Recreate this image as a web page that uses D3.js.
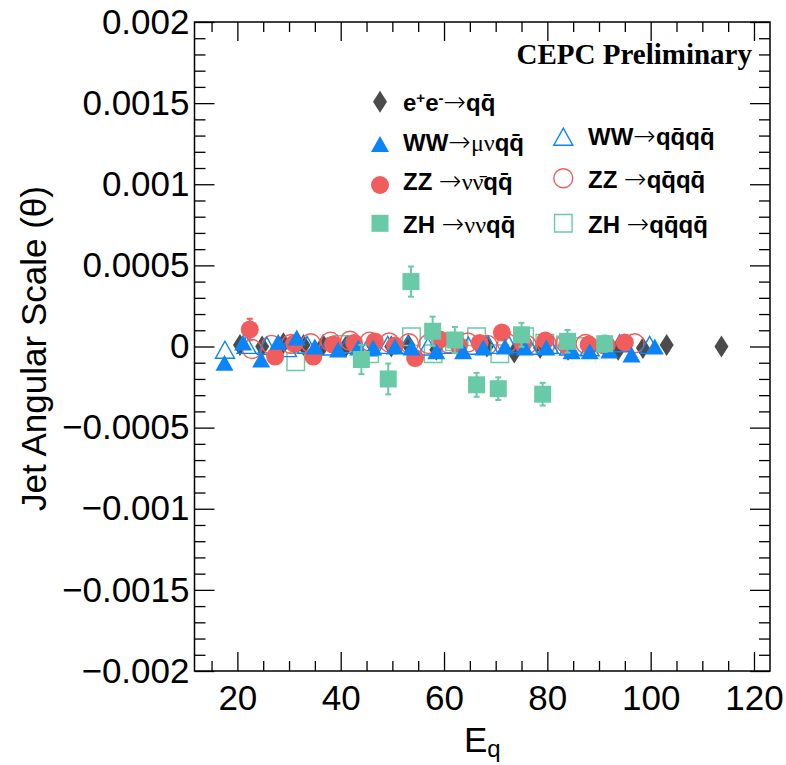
<!DOCTYPE html>
<html><head><meta charset="utf-8">
<script src="https://cdn.jsdelivr.net/npm/d3@7"></script>
<style>body{margin:0;background:#fff}svg{display:block}</style>
</head><body><svg id="c" width="786" height="765"></svg>
<script>
// ---------- data ----------
const xTicks = [20, 40, 60, 80, 100, 120];
const yTicks = [0.002, 0.0015, 0.001, 0.0005, 0, -0.0005, -0.001, -0.0015, -0.002];
const yTickLabels = ["0.002", "0.0015", "0.001", "0.0005", "0", "\u22120.0005", "\u22120.001", "\u22120.0015", "\u22120.002"];

const eeE = [20.5, 24.8, 28.9, 32.8, 36.6, 41.0, 46.2, 49.8, 53.1, 58.5, 63.0, 68.3, 73.6, 78.6, 84.0, 88.6, 93.7, 98.5, 103.1, 113.7];
const eeV = [0.00001, 0.0, 0.00002, 0.00001, 0.00001, 0.0, 0.00001, 0.0, 0.00001, -0.00002, -0.00001, 0.0, -0.000037, -0.00001, -0.00002, 0.0, -0.00002, -0.00001, 0.00001, 0.0];

const wwLepE = [17.5, 21.1, 24.6, 27.9, 31.5, 35.0, 39.5, 43.4, 46.3, 50.5, 53.7, 58.5, 63.7, 67.6, 71.8, 75.6, 79.8, 84.7, 88.2, 92.0, 96.3, 100.8];
const wwLepV = [-0.0001, 0.000025, -0.00008, 0.00003, 0.000055, 0.0, -0.000018, -0.000006, -0.000006, 0.0, -0.000006, -0.00003, -0.00003, -0.000006, 0.0, -0.000006, -0.000006, -0.00003, -0.00003, -0.000025, -0.00005, 0.0];

const wwHadE = [17.6, 21.8, 25.7, 29.6, 33.5, 37.4, 41.3, 45.2, 49.1, 53.0, 56.9, 60.8, 64.7, 68.6, 72.5, 76.4, 80.3, 84.2, 88.2, 94.0, 99.8];
const wwHadV = [-0.00002, 0.00001, 0.000005, -0.00001, 0.00001, 0.0, 0.00001, -0.000005, 0.00001, 0.00001, 0.0, 0.00001, 0.000005, 0.00001, 0.000015, 0.000005, 0.00001, 0.0, -0.000005, 0.00002, 0.00001];

const zzNuE = [22.4, 27.3, 31.0, 34.7, 38.5, 42.6, 46.6, 50.5, 54.4, 59.2, 62.9, 66.9, 71.2, 75.3, 79.6, 83.8, 88.0, 91.5, 95.0];
const zzNuV = [0.000105, -0.000062, 0.000018, -0.000062, 0.000012, 0.000022, 0.000031, 0.000006, -0.000071, 0.000043, 0.000006, 0.000022, 0.000086, 0.000018, 0.000037, 0.000006, 0.000012, 0.000006, 0.000025];
const zzNuErr = [0.000066, 0.00003, 0.00003, 0.00003, 0.00003, 0.00003, 0.00003, 0.00003, 0.00003, 0.00003, 0.00003, 0.00003, 0.00003, 0.00003, 0.00003, 0.00003, 0.00003, 0.00003, 0.00003];

const zzHadE = [22.8, 26.6, 30.4, 34.2, 38.0, 41.8, 45.6, 49.4, 53.2, 57.0, 60.8, 64.6, 68.4, 72.2, 76.0, 79.8, 83.6, 87.4, 91.2, 96.9];
const zzHadV = [-0.000015, 0.00001, 0.000015, 0.00002, 0.00003, 0.000035, 0.00003, 0.000025, 0.00002, 0.000015, 0.00002, 0.000025, 0.00001, 0.00002, 0.00001, 0.00002, 0.00002, 0.000015, 0.00001, 0.00002];

const zhNuE = [44.0, 49.2, 53.6, 57.8, 62.1, 66.3, 70.5, 75.0, 79.1, 83.9, 91.1];
const zhNuV = [-0.00008, -0.0002, 0.0004, 0.000094, 0.00004, -0.000236, -0.00026, 0.000072, -0.000294, 0.000032, 0.000017];
const zhNuErr = [0.00009, 0.000095, 0.000093, 0.00009, 0.00008, 0.000074, 0.00007, 0.000074, 0.00007, 0.00007, 0.00005];

const zhHadE = [31.3, 40.2, 45.6, 53.7, 57.9, 62.0, 66.3, 70.8, 75.6, 79.5, 83.5, 87.0];
const zhHadV = [-0.000094, 0.000012, -0.000045, 0.00006, -0.000045, 0.00003, 0.00006, -0.000045, 0.00006, 0.00002, 0.00001, 0.0];

// ---------- style ----------
const C_DARK = "#4b4b4b", C_BLUE = "#0b84f8", C_RED = "#f15d5d", C_GREEN = "#68caa7";
const SANS = "'Liberation Sans', Arial, Helvetica, sans-serif";
const SERIF = "'Liberation Serif', 'Times New Roman', serif";

const svg = d3.select("#c");
const L = 194.5, R = 770, T = 22, B = 671;
const x = d3.scaleLinear().domain([11.7, 123.1]).range([L, R]);
const y = d3.scaleLinear().domain([-0.002, 0.002]).range([B, T]);

function tri(w, h) { return `M0,${-h/2}L${w/2},${h/2}L${-w/2},${h/2}Z`; }
function diam(w, h) { return `M0,${-h/2}L${w/2},0L0,${h/2}L${-w/2},0Z`; }
function sq(s) { return `M${-s/2},${-s/2}h${s}v${s}h${-s}Z`; }
function circ(r) { return `M${r},0A${r},${r} 0 1,1 ${-r},0A${r},${r} 0 1,1 ${r},0Z`; }

const M = {
  tri: tri(18, 16), diam: diam(14, 22), sq: sq(17), circ: circ(9),
  otri: tri(19, 17), osq: sq(17.5), ocirc: circ(9.5)
};

// ---------- axes ----------
const gAx = svg.append("g");
const minorX = d3.range(15, 121, 5).filter(v => !xTicks.includes(v));
const minorY = d3.range(-20, 21).map(v => v * 0.0001).filter(v => Math.abs(Math.round(v*10000) % 5) !== 0);

function styleAxis(g) {
  g.select(".domain").remove();
  g.selectAll("line").attr("stroke", "#000").attr("stroke-width", 1.3);
}
gAx.append("g").attr("transform", `translate(0,${B})`)
  .call(d3.axisBottom(x).tickValues(xTicks).tickFormat(d3.format("d")).tickSize(-19).tickPadding(14))
  .call(styleAxis)
  .call(g => g.selectAll("text").attr("font-family", SANS).attr("font-size", 35).attr("fill", "#000"));
gAx.append("g").attr("transform", `translate(0,${B})`)
  .call(d3.axisBottom(x).tickValues(minorX).tickFormat("").tickSize(-10)).call(styleAxis);
gAx.append("g").attr("transform", `translate(0,${T})`)
  .call(d3.axisTop(x).tickValues(xTicks).tickFormat("").tickSize(-19)).call(styleAxis);
gAx.append("g").attr("transform", `translate(0,${T})`)
  .call(d3.axisTop(x).tickValues(minorX).tickFormat("").tickSize(-10)).call(styleAxis);
gAx.append("g").attr("transform", `translate(${L},0)`)
  .call(d3.axisLeft(y).tickValues(yTicks).tickFormat((d, i) => yTickLabels[i]).tickSize(-20).tickPadding(5))
  .call(styleAxis)
  .call(g => g.selectAll("text").attr("font-family", SANS).attr("font-size", 35).attr("fill", "#000"));
gAx.append("g").attr("transform", `translate(${L},0)`)
  .call(d3.axisLeft(y).tickValues(minorY).tickFormat("").tickSize(-11)).call(styleAxis);
gAx.append("g").attr("transform", `translate(${R},0)`)
  .call(d3.axisRight(y).tickValues(yTicks).tickFormat("").tickSize(-20)).call(styleAxis);
gAx.append("g").attr("transform", `translate(${R},0)`)
  .call(d3.axisRight(y).tickValues(minorY).tickFormat("").tickSize(-11)).call(styleAxis);

svg.append("rect").attr("x", L).attr("y", T).attr("width", R - L).attr("height", B - T)
  .attr("fill", "none").attr("stroke", "#000").attr("stroke-width", 1.5);

svg.append("text").attr("transform", `translate(46,${(T + B) / 2 + 2}) rotate(-90)`)
  .attr("text-anchor", "middle").attr("font-family", SANS).attr("font-size", 35).attr("fill", "#000")
  .text("Jet Angular Scale (\u03B8)");
const xt = svg.append("text").attr("x", (L + R) / 2).attr("y", 752).attr("text-anchor", "middle")
  .attr("font-family", SANS).attr("font-size", 35).attr("fill", "#000");
xt.append("tspan").text("E");
xt.append("tspan").attr("font-size", 24).attr("dy", 5).text("q");

svg.append("text").attr("x", 752).attr("y", 64).attr("text-anchor", "end")
  .attr("font-family", SERIF).attr("font-weight", "bold").attr("font-size", 29).attr("fill", "#000")
  .text("CEPC Preliminary");

// ---------- data marks ----------
const gD = svg.append("g");
function zipd(E, V, Err) { return E.map((e, i) => ({ e, v: V[i], err: Err ? Err[i] : 0 })); }

function errBars(data, color) {
  const g = gD.append("g").attr("stroke", color).attr("stroke-width", 2);
  data.forEach(d => {
    const cx = x(d.e), y1 = y(d.v + d.err), y2 = y(d.v - d.err);
    g.append("line").attr("x1", cx).attr("x2", cx).attr("y1", y1).attr("y2", y2);
    g.append("line").attr("x1", cx - 3).attr("x2", cx + 3).attr("y1", y1).attr("y2", y1);
    g.append("line").attr("x1", cx - 3).attr("x2", cx + 3).attr("y1", y2).attr("y2", y2);
  });
}
function marks(data, path, color, open) {
  gD.append("g").selectAll("path").data(data).join("path")
    .attr("transform", d => `translate(${x(d.e)},${y(d.v)})`)
    .attr("d", path)
    .attr("fill", open ? "none" : color)
    .attr("stroke", open ? color : "none")
    .attr("stroke-width", open ? 1.4 : 0);
}

const zhHad = zipd(zhHadE, zhHadV), zzHad = zipd(zzHadE, zzHadV), wwHad = zipd(wwHadE, wwHadV);
const zzNu = zipd(zzNuE, zzNuV, zzNuErr), wwLep = zipd(wwLepE, wwLepV), ee = zipd(eeE, eeV);
const zhNu = zipd(zhNuE, zhNuV, zhNuErr);

marks(ee, M.diam, C_DARK, false);
marks(zhHad, M.osq, C_GREEN, true);
marks(zzHad, M.ocirc, C_RED, true);
marks(wwHad, M.otri, C_BLUE, true);
errBars(zzNu, C_RED);
marks(zzNu, M.circ, C_RED, false);
marks(wwLep, M.tri, C_BLUE, false);
errBars(zhNu, C_GREEN);
marks(zhNu, M.sq, C_GREEN, false);

// ---------- legend ----------
const gL = svg.append("g");
function legMarker(cx, cy, path, color, open) {
  gL.append("path").attr("transform", `translate(${cx},${cy})`).attr("d", path)
    .attr("fill", open ? "none" : color).attr("stroke", open ? color : "none").attr("stroke-width", open ? 1.4 : 0);
}
function legText(tx, ty, parts) {
  const t = gL.append("text").attr("x", tx).attr("y", ty).attr("font-size", 24).attr("fill", "#000");
  parts.forEach(p => {
    const s = t.append("tspan").text(p.t)
      .attr("font-family", p.arrow ? "'DejaVu Sans', sans-serif" : (p.serif ? SERIF : SANS))
      .attr("font-weight", (p.serif || p.arrow) ? "normal" : "bold");
    if (p.arrow) s.attr("font-size", 27).attr("font-weight", "200");
    if (p.sup) s.attr("font-size", 15).attr("baseline-shift", "super");
  });
}
const ARROW = { t: "\u2192", arrow: true };
const QQ = { t: "qq\u0304" };
legMarker(380, 101.7, M.diam, C_DARK, false);
legText(403, 111, [{ t: "e" }, { t: "+", sup: true }, { t: "e" }, { t: "-", sup: true }, ARROW, QQ]);
legMarker(380, 144, M.tri, C_BLUE, false);
legText(403, 151, [{ t: "WW" }, ARROW, { t: "\u03BC\u03BD", serif: true }, QQ]);
legMarker(380, 185, M.circ, C_RED, false);
legText(403, 190, [{ t: "ZZ " }, ARROW, { t: "\u03BD\u03BD\u0304", serif: true }, QQ]);
legMarker(380, 223.3, M.sq, C_GREEN, false);
legText(403, 232.7, [{ t: "ZH " }, ARROW, { t: "\u03BD\u03BD", serif: true }, QQ]);

legMarker(563.3, 136.7, M.otri, C_BLUE, true);
legText(588, 145, [{ t: "WW" }, ARROW, { t: "qq\u0304qq\u0304" }]);
legMarker(563.3, 178.3, M.ocirc, C_RED, true);
legText(588, 188, [{ t: "ZZ " }, ARROW, { t: "qq\u0304qq\u0304" }]);
legMarker(563.3, 223.3, M.osq, C_GREEN, true);
legText(588, 232.7, [{ t: "ZH " }, ARROW, { t: "qq\u0304qq\u0304" }]);
</script></body></html>
